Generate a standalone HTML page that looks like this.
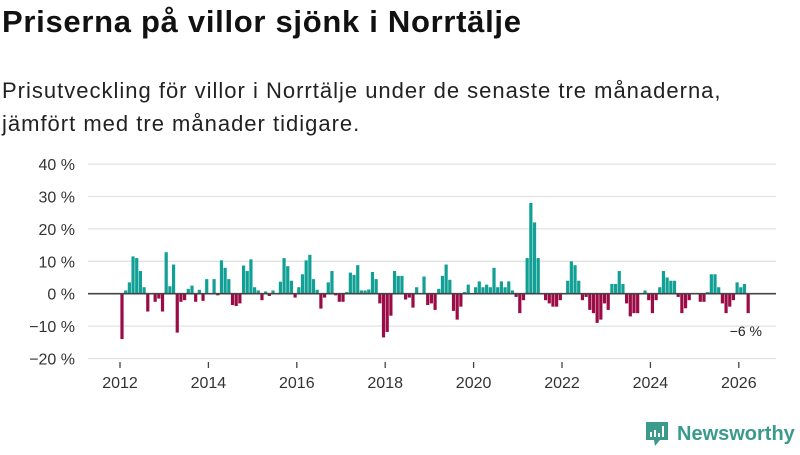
<!DOCTYPE html>
<html><head><meta charset="utf-8"><style>
body{margin:0;width:800px;height:450px;background:#fff;font-family:"Liberation Sans",sans-serif;overflow:hidden}
</style></head><body>
<svg width="800" height="450" xmlns="http://www.w3.org/2000/svg">
<text x="2" y="32" font-size="31" letter-spacing="0.7" font-weight="bold" fill="#111">Priserna på villor sjönk i Norrtälje</text>
<text x="2" y="98" font-size="22" letter-spacing="1" fill="#222">Prisutveckling för villor i Norrtälje under de senaste tre månaderna,</text>
<text x="2" y="131" font-size="22" letter-spacing="1" fill="#222">jämfört med tre månader tidigare.</text>
<g id="grid"></g><g id="bars"></g><g id="axes"></g>
<text x="762" y="336" font-size="14" fill="#222" text-anchor="end">−6 %</text>
<g>
<path d="M646 422h22v18h-8l-5 6-1-6h-8z" fill="#3a9a8c"/>
<rect x="650" y="432" width="2" height="5" fill="#fff"/><rect x="654" y="430" width="2" height="7" fill="#fff"/><rect x="658" y="433" width="2" height="4" fill="#fff"/><rect x="662" y="426" width="2" height="11" fill="#fff"/>
<text x="677" y="440" font-size="20" font-weight="bold" fill="#3a9a8c">Newsworthy</text>
</g>
</svg>
<script>
const yTicks=[40,30,20,10,0,-10,-20];
const yTickLabels=["40 %","30 %","20 %","10 %","0 %","−10 %","−20 %"];
const xTicks=[2012,2014,2016,2018,2020,2022,2024,2026];
const startYear=2012;
const values=[-14,1,3.5,11.5,11,7,2,-5.5,0,-2.5,-1.5,-5.5,12.8,2.3,9,-12,-2.5,-2,1.5,2.5,-2.5,1.2,-2.2,4.5,0,4.5,-0.5,10.3,8,4.5,-3.5,-3.8,-3,8.7,7,10.6,2,1,-2,0.7,-0.7,1,0,3.7,11,8.5,
4,-1.2,2,6,10.3,12,4.5,1.2,-4.6,-1.2,3.5,7,-0.5,-2.5,-2.5,0.5,6.5,5.8,8.8,1,1,1.3,6.7,4.5,-3,-13.5,-11.8,-6.8,7,5.5,5.5,-1.8,-1.2,-4.3,2,0,5.3,-3.5,-3,-5,1.5,5.5,9,4.3,-5.3,-8,-4,0.5,
2.8,0,2,3.8,2,2.8,2,8,2,3.8,2,3.8,1,-1,-6,-2,11,28,22,11,0,-2,-3,-4,-4,-2,0,4,10,8.8,4,-2,-1,-5,-6,-9,-8,-3,-5,3,3,7,3,-3,-7,-6,
-6,0,1,-2,-6,-2,2,7,5,4,4,-1,-6,-4.5,-2,0,0,-2.5,-2.5,0.5,6,6,2,-3,-6,-4,-2,3.5,2,3,-6];
const NS="http://www.w3.org/2000/svg";
const y=v=>293.7-v*3.24;
const x=t=>120+(t-2012)*44.2;
function mk(tag,attrs,parent){const e=document.createElementNS(NS,tag);for(const k in attrs)e.setAttribute(k,attrs[k]);document.getElementById(parent).appendChild(e);return e;}
yTicks.forEach((v,i)=>{
 const l=mk('line',{x1:88,x2:776,y1:y(v),y2:y(v),stroke:'#e2e2e2','stroke-width':1.3},'grid');
 
 
 const t=mk('text',{x:75,y:y(v)+6,'font-size':16,fill:'#333','text-anchor':'end'},'grid');
 t.textContent=yTickLabels[i];
 
 
});
values.forEach((v,i)=>{
 const cx=x(startYear+i/12)+2;
 const r=mk('rect',{x:cx-1.6,width:3.2,y:Math.min(y(v),y(0)),height:Math.abs(y(v)-y(0)),fill:v>=0?'#11a095':'#9b0b45'},'bars');
 
 
});
const z=mk('line',{x1:88,x2:776,y1:y(0),y2:y(0),stroke:'#444','stroke-width':1.6},'axes');


xTicks.forEach(yr=>{
 const tk=mk('line',{x1:x(yr),x2:x(yr),y1:362,y2:368,stroke:'#444','stroke-width':1.3},'axes');
 
 
 const t=mk('text',{x:x(yr),y:388,'font-size':16,fill:'#333','text-anchor':'middle'},'axes');
 t.textContent=yr;
 
 
});
</script>
</body></html>
